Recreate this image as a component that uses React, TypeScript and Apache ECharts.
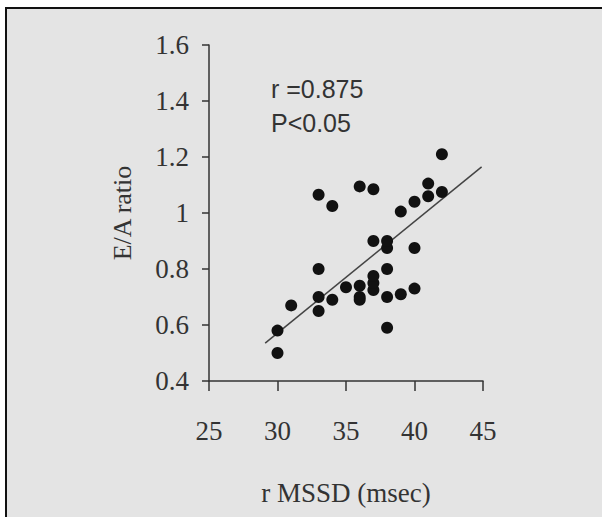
import React, { useEffect, useRef } from "react";
import * as echarts from "echarts";

const xTicks = [25, 30, 35, 40, 45];
const yTicks = [0.4, 0.6, 0.8, 1.0, 1.2, 1.4, 1.6];

const rmssd = [30, 30, 31, 33, 33, 33, 33, 34, 34, 35, 36, 36, 36, 36, 37, 37, 37, 37, 37, 38, 38, 38, 38, 38, 39, 39, 40, 40, 40, 41, 41, 42, 42];
const eaRatio = [0.50, 0.58, 0.67, 0.65, 0.70, 0.80, 1.065, 0.69, 1.025, 0.735, 0.74, 0.70, 0.69, 1.095, 0.725, 0.75, 0.775, 0.90, 1.085, 0.59, 0.70, 0.80, 0.875, 0.90, 0.71, 1.005, 0.73, 0.875, 1.04, 1.06, 1.105, 1.075, 1.21];

const fitX = [29.1, 44.9];
const fitY = [0.535, 1.165];

const annotation = ["r =0.875", "P<0.05"];

export default function App() {
  const ref = useRef<HTMLDivElement>(null);
  useEffect(() => {
    if (!ref.current) return;
    const chart = echarts.init(ref.current, null, { renderer: "svg" });
    const serif = "Liberation Serif";
    const sans = "Liberation Sans";
    const labelStyle = {
      fontFamily: serif,
      fontSize: 27,
      color: "#333",
      formatter: (v: number) => "{s|" + String(Math.round(v * 10) / 10) + "}",
      rich: { s: { fontFamily: serif, fontSize: 27, color: "#333" } },
    };
    chart.setOption({
      animation: false,
      backgroundColor: "#ffffff",
      textStyle: { fontFamily: serif },
      graphic: [
        { type: "rect", z: -10, shape: { x: 6, y: 8, width: 596, height: 509 }, style: { fill: "#e4e4e4" } },
        { type: "line", z: 10, shape: { x1: 5, y1: 8, x2: 602, y2: 8 }, style: { stroke: "#111", lineWidth: 2 } },
        { type: "line", z: 10, shape: { x1: 6, y1: 7, x2: 6, y2: 517 }, style: { stroke: "#111", lineWidth: 2 } },
        {
          type: "text",
          left: 271,
          top: 72,
          style: {
            text: annotation.join("\n"),
            fontFamily: sans,
            fontSize: 25,
            lineHeight: 34,
            fill: "#333",
          },
        },
      ],
      grid: { left: 209, right: 119, top: 45, bottom: 136 },
      xAxis: {
        type: "value",
        min: xTicks[0],
        max: xTicks[xTicks.length - 1],
        interval: 5,
        name: "r MSSD (msec)",
        nameLocation: "middle",
        nameGap: 98,
        nameTextStyle: { fontFamily: serif, fontSize: 27, color: "#333" },
        axisLine: { show: true, onZero: false, lineStyle: { color: "#333", width: 1.5 } },
        axisTick: { show: true, length: 10, lineStyle: { color: "#333", width: 1.5 } },
        axisLabel: { ...labelStyle, margin: 36 },
        splitLine: { show: false },
      },
      yAxis: {
        type: "value",
        min: yTicks[0],
        max: yTicks[yTicks.length - 1],
        interval: 0.2,
        name: "E/A ratio",
        nameLocation: "middle",
        nameGap: 74,
        nameTextStyle: { fontFamily: serif, fontSize: 26, color: "#333" },
        axisLine: { show: true, onZero: false, lineStyle: { color: "#333", width: 1.5 } },
        axisTick: { show: true, length: 7, lineStyle: { color: "#333", width: 1.5 } },
        axisLabel: { ...labelStyle, margin: 20 },
        splitLine: { show: false },
      },
      series: [
        {
          type: "line",
          data: fitX.map((x, i) => [x, fitY[i]]),
          showSymbol: false,
          symbol: "none",
          lineStyle: { color: "#444", width: 1.5 },
          z: 2,
        },
        {
          type: "scatter",
          data: rmssd.map((x, i) => [x, eaRatio[i]]),
          symbolSize: 12,
          itemStyle: { color: "#111", opacity: 1 },
          z: 3,
        },
      ],
    });
    return () => chart.dispose();
  }, []);
  return (
    <div
      ref={ref}
      style={{ position: "fixed", left: 0, top: 0, width: 602, height: 517 }}
    />
  );
}
